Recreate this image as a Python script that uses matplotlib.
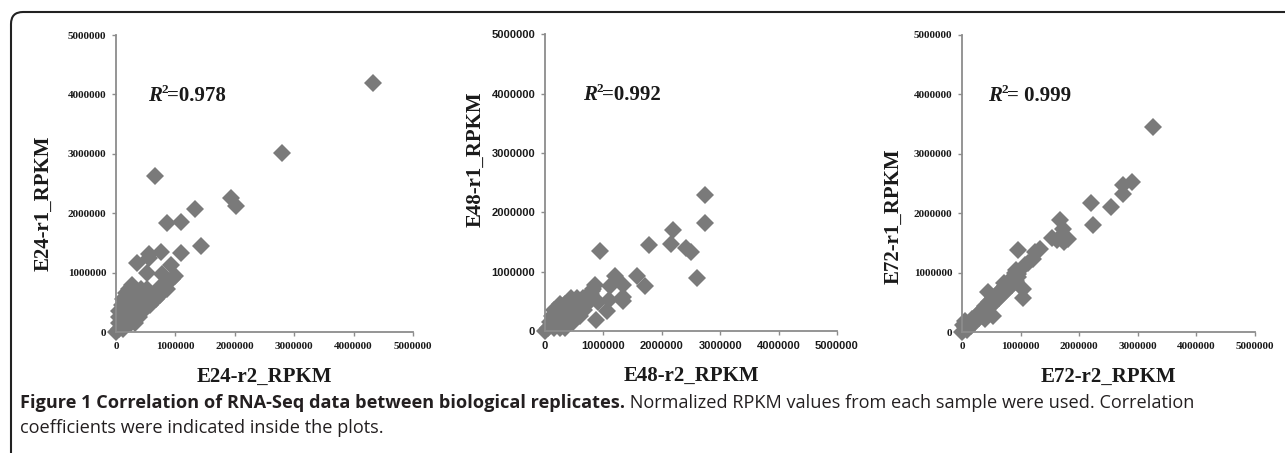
import matplotlib
matplotlib.use('Agg')
import matplotlib.pyplot as plt
from matplotlib.patches import FancyBboxPatch
from matplotlib.transforms import IdentityTransform

# values in millions of RPKM (x = r2, y = r1)
# first the scattered outliers, then the dense cloud near the origin
e24_r2 = [4.32, 2.80, 0.65, 1.93, 2.02, 1.33, 0.85, 1.10, 1.43, 0.76, 1.10, 0.55, 0.55, 0.35,
          0.52, 0.93, 1.00, 0.95, 0.78, 0.80, 0.75, 0.60, 0.85,
          0.00, 0.05, 0.12, 0.05, 0.15, 0.25, 0.32, 0.05, 0.15, 0.25, 0.38, 0.05, 0.15, 0.25,
          0.35, 0.45, 0.10, 0.20, 0.30, 0.40, 0.50, 0.58, 0.12, 0.22, 0.32, 0.42, 0.52, 0.62,
          0.68, 0.16, 0.26, 0.36, 0.46, 0.56, 0.66, 0.22, 0.32, 0.42, 0.52, 0.27, 0.74]
e24_r1 = [4.19, 3.01, 2.62, 2.25, 2.12, 2.07, 1.84, 1.85, 1.45, 1.35, 1.33, 1.31, 1.24, 1.17,
          1.00, 1.12, 0.95, 0.90, 0.97, 0.75, 0.78, 0.55, 0.72,
          0.00, 0.05, 0.05, 0.15, 0.15, 0.15, 0.15, 0.25, 0.25, 0.25, 0.25, 0.35, 0.35, 0.35,
          0.35, 0.35, 0.45, 0.45, 0.45, 0.45, 0.45, 0.45, 0.55, 0.55, 0.55, 0.55, 0.55, 0.55,
          0.55, 0.65, 0.65, 0.65, 0.65, 0.65, 0.65, 0.72, 0.72, 0.72, 0.72, 0.79, 0.62]

e48_r2 = [2.74, 2.74, 2.19, 2.15, 2.42, 2.50, 1.78, 0.95, 2.61, 1.57, 1.71, 1.20, 1.11, 1.33,
          1.33, 1.34, 1.10, 1.06, 0.91, 0.86, 0.83, 0.87, 0.80, 0.78,
          0.00, 0.05, 0.15, 0.25, 0.35, 0.08, 0.18, 0.28, 0.38, 0.48, 0.12, 0.22, 0.32, 0.42,
          0.52, 0.60, 0.16, 0.26, 0.36, 0.46, 0.56, 0.66, 0.25, 0.35, 0.45, 0.55, 0.65, 0.72,
          0.45, 0.55, 0.65]
e48_r1 = [2.30, 1.82, 1.70, 1.47, 1.40, 1.33, 1.45, 1.35, 0.90, 0.93, 0.76, 0.92, 0.76, 0.78,
          0.58, 0.50, 0.52, 0.33, 0.49, 0.78, 0.70, 0.18, 0.68, 0.62,
          0.00, 0.05, 0.05, 0.05, 0.05, 0.15, 0.15, 0.15, 0.15, 0.15, 0.25, 0.25, 0.25, 0.25,
          0.25, 0.25, 0.35, 0.35, 0.35, 0.35, 0.35, 0.35, 0.45, 0.45, 0.45, 0.45, 0.45, 0.45,
          0.55, 0.55, 0.55]

e72_r2 = [3.26, 2.90, 2.74, 2.74, 2.55, 2.21, 2.24, 1.67, 1.72, 1.81, 1.53, 1.62, 1.75, 1.33,
          0.96, 1.24, 1.21, 1.07, 1.05, 1.05, 0.96, 0.91, 0.92, 1.13,
          0.00, 0.05, 0.08, 0.12, 0.15, 0.18, 0.22, 0.25, 0.29, 0.32, 0.36, 0.39, 0.43, 0.46,
          0.50, 0.53, 0.57, 0.60, 0.64, 0.67, 0.71, 0.74, 0.78, 0.81, 0.85, 0.88, 0.92, 0.95,
          0.44, 0.72, 0.80, 0.53, 0.40, 0.05, 0.02]
e72_r1 = [3.45, 2.53, 2.47, 2.32, 2.10, 2.17, 1.80, 1.89, 1.74, 1.56, 1.59, 1.55, 1.52, 1.39,
          1.38, 1.35, 1.22, 1.12, 0.58, 0.73, 0.92, 0.99, 1.04, 1.16,
          0.00, 0.08, 0.03, 0.14, 0.10, 0.22, 0.17, 0.28, 0.24, 0.36, 0.30, 0.43, 0.37, 0.50,
          0.44, 0.57, 0.51, 0.64, 0.58, 0.71, 0.65, 0.78, 0.72, 0.85, 0.79, 0.90, 0.86, 0.97,
          0.68, 0.82, 0.78, 0.27, 0.22, 0.18, 0.12]

panels = [
    ('E24-r2_RPKM', 'E24-r1_RPKM', e24_r2, e24_r1, '=0.978', 0.54, 'Liberation Serif'),
    ('E48-r2_RPKM', 'E48-r1_RPKM', e48_r2, e48_r1, '=0.992', 0.65, 'Liberation Sans'),
    ('E72-r2_RPKM', 'E72-r1_RPKM', e72_r2, e72_r1, '= 0.999', 0.44, 'Liberation Serif'),
]
ticks = [0, 1000000, 2000000, 3000000, 4000000, 5000000]
axes_rects = [
    [0.0903, 0.2671, 0.2311, 0.6556],
    [0.4241, 0.2693, 0.2272, 0.6550],
    [0.7486, 0.2671, 0.2280, 0.6560],
]
ylabel_pos = [(-0.21, 0.434), (-0.205, 0.58), (-0.20, 0.39)]

fig = plt.figure(figsize=(12.85, 4.53), dpi=100)

for i, (xl, yl, xs, ys, r2, tx, tickfont) in enumerate(panels):
    ax = fig.add_axes(axes_rects[i])
    ax.plot([v * 1e6 for v in xs], [v * 1e6 for v in ys], linestyle='none', marker='D',
            markersize=9.5, color='#7a7a7a', markeredgewidth=0, clip_on=False)
    ax.set_xlim(0, 5000000)
    ax.set_ylim(0, 5000000)
    ax.set_xticks(ticks)
    ax.set_yticks(ticks)
    ax.set_xticklabels([str(t) for t in ticks], fontsize=8, fontweight='bold', family=tickfont)
    ax.set_yticklabels([str(t) for t in ticks], fontsize=8, fontweight='bold', family=tickfont)
    for s in ['top', 'right']:
        ax.spines[s].set_visible(False)
    for s in ['left', 'bottom']:
        ax.spines[s].set_color('#8c8c8c')
        ax.spines[s].set_linewidth(1.3)
    ax.tick_params(length=3, width=1, color='#8c8c8c', pad=4, labelcolor='#1a1a1a')
    ax.set_xlabel(xl, fontsize=15, fontweight='bold', family='Liberation Serif', color='#1a1a1a')
    ax.set_ylabel(yl, fontsize=15, fontweight='bold', family='Liberation Serif', color='#1a1a1a')
    ax.xaxis.set_label_coords(0.5, -0.118)
    ax.yaxis.set_label_coords(*ylabel_pos[i])
    # R squared: italic R, then superscript and value
    tr = ax.text(tx * 1e6, 3.97e6, 'R', fontsize=15, fontweight='bold', style='italic',
                 family='Liberation Serif', va='center', ha='left', color='#1a1a1a')
    fig.canvas.draw()
    rb = tr.get_window_extent()
    fig.text(rb.x1 / 1285, (rb.y1 - 4) / 453, '2', fontsize=9.5, fontweight='bold',
             family='Liberation Serif', va='center', ha='left', color='#1a1a1a')
    fig.text((rb.x1 + 5) / 1285, (rb.y0 + rb.y1) / 2 / 453, r2, fontsize=15, fontweight='bold',
             family='Liberation Serif', va='center', ha='left', color='#1a1a1a')

# rounded frame around the figure
frame = FancyBboxPatch((11, -30), 1320, 471, boxstyle='round,pad=0,rounding_size=12',
                       transform=IdentityTransform(), fill=False, edgecolor='#222222',
                       linewidth=1.5)
fig.patches.append(frame)

# caption
cap_font = 'Open Sans'
cap_bold = 'Figure 1 Correlation of RNA-Seq data between biological replicates.'
cap_rest = ' Normalized RPKM values from each sample were used. Correlation'
cap_line2 = 'coefficients were indicated inside the plots.'
t1 = fig.text(20 / 1285, 1 - 403 / 453, cap_bold, fontsize=13.1, fontweight='bold',
              family=cap_font, va='center', color='#231f20')
fig.canvas.draw()
bb = t1.get_window_extent()
fig.text(bb.x1 / 1285, 1 - 403 / 453, cap_rest, fontsize=13.1, family=cap_font,
         va='center', color='#231f20')
fig.text(20 / 1285, 1 - 428 / 453, cap_line2, fontsize=13.1, family=cap_font,
         va='center', color='#231f20')

plt.savefig('out.png', dpi=100)
